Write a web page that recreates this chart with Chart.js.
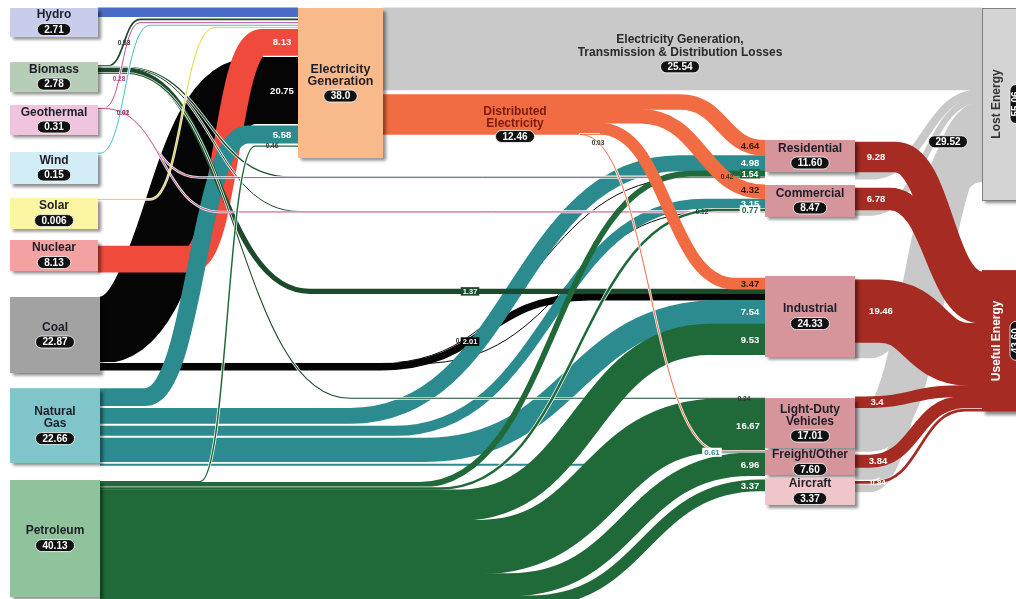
<!DOCTYPE html>
<html>
<head>
<meta charset="utf-8">
<script src="https://cdn.jsdelivr.net/npm/chart.js@4.4.1/dist/chart.umd.min.js"></script>
<style>
  html, body { margin: 0; padding: 0; background: #fff; }
  #wrap { width: 1016px; height: 599px; position: relative; overflow: hidden; }
</style>
</head>
<body>
<div id="wrap"><canvas id="sankey"></canvas></div>
<script>
// --- DATOS: nodos (quads) ---
const nodeIds = ['hydro', 'biomass', 'geothermal', 'wind', 'solar', 'nuclear', 'coal', 'gas', 'petroleum',
    'elec', 'dist', 'residential', 'commercial', 'industrial', 'ldv', 'freight', 'aircraft', 'lost', 'useful'];
const nodeNames = [['Hydro'], ['Biomass'], ['Geothermal'], ['Wind'], ['Solar'], ['Nuclear'], ['Coal'], ['Natural', 'Gas'], ['Petroleum'],
    ['Electricity', 'Generation'], ['Distributed', 'Electricity'], ['Residential'], ['Commercial'], ['Industrial'],
    ['Light-Duty', 'Vehicles'], ['Freight/Other'], ['Aircraft'], ['Lost Energy'], ['Useful Energy']];
const nodeValues = [2.71, 2.78, 0.31, 0.15, 0.006, 8.13, 22.87, 22.66, 40.13, 38.0, 12.46, 11.60, 8.47, 24.33, 17.01, 7.60, 3.37, 55.06, 43.60];
const nodeDecimals = [2, 2, 2, 2, 3, 2, 2, 2, 2, 1, 2, 2, 2, 2, 2, 2, 2, 2, 2];

// --- DATOS: flujos ---
const flowSources = ['hydro', 'biomass', 'biomass', 'biomass', 'biomass', 'biomass', 'geothermal', 'geothermal', 'geothermal',
    'wind', 'solar', 'nuclear', 'coal', 'coal', 'coal', 'coal', 'gas', 'gas', 'gas', 'gas', 'gas',
    'petroleum', 'petroleum', 'petroleum', 'petroleum', 'petroleum', 'petroleum', 'petroleum',
    'elec', 'elec', 'dist', 'dist', 'dist', 'dist',
    'residential', 'commercial', 'industrial', 'ldv', 'freight', 'aircraft',
    'residential', 'commercial', 'industrial', 'ldv', 'freight', 'aircraft'];
const flowTargets = ['elec', 'elec', 'residential', 'commercial', 'industrial', 'ldv', 'elec', 'residential', 'commercial',
    'elec', 'elec', 'elec', 'elec', 'residential', 'commercial', 'industrial', 'elec', 'residential', 'commercial', 'industrial', 'freight',
    'elec', 'residential', 'commercial', 'industrial', 'ldv', 'freight', 'aircraft',
    'lost', 'dist', 'residential', 'commercial', 'industrial', 'freight',
    'useful', 'useful', 'useful', 'useful', 'useful', 'useful',
    'lost', 'lost', 'lost', 'lost', 'lost', 'lost'];
const flowValues = [2.71, 0.53, 0.42, 0.12, 1.37, 0.34, 0.28, 0.02, 0.01,
    0.15, 0.006, 8.13, 20.75, 0.01, 0.07, 2.01, 5.58, 4.98, 3.15, 7.54, 0.61,
    0.46, 1.54, 0.77, 9.53, 16.67, 6.96, 3.37,
    25.54, 12.46, 4.64, 4.32, 3.47, 0.03,
    9.28, 6.78, 19.46, 3.4, 3.84, 0.84,
    2.32, 1.69, 4.87, 13.61, 3.76, 2.53];
const endUseLosses = 29.52;
const lossTitle = ['Electricity Generation,', 'Transmission & Distribution Losses'];

// --- LAYOUT (x en px, y en quads) ---
const L = {
    hydro:      { x0: 10, x1: 98, y0: 2.5, y1: 11.6, out: 2.5, fill: '#c8cdec', band: '#4a6bc6' },
    biomass:    { x0: 10, x1: 98, y0: 19.4, y1: 28.8, out: 20.3, fill: '#b6cdb8', band: '#1d4a2a' },
    geothermal: { x0: 10, x1: 98, y0: 32.8, y1: 42.2, out: 33.6, fill: '#efc4dc', band: '#c24f8c' },
    wind:       { x0: 10, x1: 98, y0: 47.5, y1: 57.5, out: 47.8, fill: '#d3edf6', band: '#3cc0d2' },
    solar:      { x0: 10, x1: 98, y0: 61.9, y1: 71.6, out: 62.3, fill: '#fcf5a3', band: '#e6d43a' },
    nuclear:    { x0: 10, x1: 98, y0: 75, y1: 84.7, out: 76.9, fill: '#f3a1a1', band: '#ef4a3b' },
    coal:       { x0: 10, x1: 100, y0: 92.8, y1: 116.6, out: 92.8, fill: '#a2a2a2', band: '#050505' },
    gas:        { x0: 10, x1: 100, y0: 121.3, y1: 144.7, out: 121.3, outGap: 0.6, fill: '#7fc5ca', band: '#2b8b8e' },
    petroleum:  { x0: 10, x1: 100, y0: 150, y1: 186.6, out: 150.3, fill: '#8fc39b', band: '#1f6a38' },
    elec:       { x0: 298, x1: 383, y0: 2.5, y1: 49.4, in: 2.5, inGap: 0.6, out: 2.5, outGap: 1.5, fill: '#f8b98b', band: '#f26c43', font: 12.5 },
    dist:       { x0: 600, x1: 600, in: 29.54, out: 29.54, band: '#f26c43', virtual: true },
    residential:{ x0: 765, x1: 855, y0: 43.75, y1: 53.75, in: 43.9, out: 44.4, fill: '#d5959b', band: '#a62b22',
                  inOrder: ['dist', 'gas', 'petroleum', 'biomass', 'geothermal', 'coal'] },
    commercial: { x0: 765, x1: 855, y0: 57.8, y1: 67.8, in: 57.8, out: 58.8, fill: '#d5959b', band: '#a62b22',
                  inOrder: ['dist', 'gas', 'petroleum', 'biomass', 'coal', 'geothermal'] },
    industrial: { x0: 765, x1: 855, y0: 86.25, y1: 111.6, in: 86.9, out: 87.5, fill: '#d5959b', band: '#a62b22',
                  inOrder: ['dist', 'biomass', 'coal', 'gas', 'petroleum'] },
    ldv:        { x0: 765, x1: 855, y0: 124.4, y1: 140, in: 124.3, out: 124, fill: '#d5959b', band: '#a62b22' },
    freight:    { x0: 765, x1: 855, y0: 140.6, y1: 148.4, in: 141, out: 142.2, fill: '#d5959b', band: '#a62b22',
                  inOrder: ['dist', 'gas', 'petroleum'] },
    aircraft:   { x0: 765, x1: 855, y0: 149.4, y1: 157.8, in: 150, out: 150.3, fill: '#f0c6ca', band: '#a62b22' },
    lost:       { x0: 982, x1: 1040, y0: 2.5, y1: 62.5, in: 2.5, fill: '#d4d4d4', rotated: true, text: '#333' },
    useful:     { x0: 982, x1: 1040, y0: 84.4, y1: 128.6, in: 85, fill: '#a62b22', rotated: true, text: '#fff' }
};

// tramos curvos de cada flujo [inicio, fin] en x
const bends = {
    'biomass>elec': [108, 140], 'biomass>residential': [125, 290], 'biomass>commercial': [125, 300],
    'biomass>industrial': [125, 310], 'biomass>ldv': [125, 350],
    'geothermal>elec': [104, 140], 'geothermal>residential': [104, 200], 'geothermal>commercial': [104, 220],
    'wind>elec': [100, 150], 'solar>elec': [150, 215], 'nuclear>elec': [190, 262],
    'coal>elec': [100, 255], 'coal>residential': [380, 690], 'coal>commercial': [420, 710], 'coal>industrial': [380, 590],
    'gas>elec': [145, 248], 'gas>residential': [350, 680], 'gas>commercial': [395, 705], 'gas>industrial': [425, 720],
    'gas>freight': [600, 700],
    'petroleum>elec': [200, 255], 'petroleum>residential': [420, 690], 'petroleum>commercial': [440, 715],
    'petroleum>industrial': [460, 710], 'petroleum>ldv': [480, 720], 'petroleum>freight': [510, 750], 'petroleum>aircraft': [530, 760],
    'dist>residential': [680, 765], 'dist>commercial': [640, 765], 'dist>industrial': [600, 735], 'dist>freight': [580, 720],
    'residential>useful': [895, 982], 'commercial>useful': [890, 982], 'industrial>useful': [880, 970],
    'ldv>useful': [865, 960], 'freight>useful': [870, 962], 'aircraft>useful': [875, 965]
};
const lossBend = [870, 980];

// etiquetas de valor sobre los flujos
const flowLabels = {
    'nuclear>elec': { x: 282 }, 'coal>elec': { x: 282 }, 'gas>elec': { x: 282 },
    'biomass>elec': { x: 124, color: '#333', size: 6.5 },
    'geothermal>elec': { x: 119, color: '#b0407a', size: 6.5 },
    'geothermal>residential': { x: 123, color: '#b0407a', size: 6.5 },
    'geothermal>commercial': { x: 123, color: '#b0407a', size: 6.5 },
    'petroleum>elec': { x: 272, color: '#333', size: 6.5 },
    'dist>residential': { x: 750, color: '#3a1200' }, 'dist>commercial': { x: 750, color: '#3a1200' },
    'dist>industrial': { x: 750, color: '#3a1200' }, 'dist>freight': { x: 598, color: '#333', size: 6.5 },
    'gas>residential': { x: 750 }, 'gas>commercial': { x: 750 }, 'gas>industrial': { x: 750 },
    'gas>freight': { x: 712, color: '#2b8b8e', bg: '#fff', size: 8 },
    'petroleum>residential': { x: 750, bg: '#1f6a38', size: 8.5 },
    'petroleum>commercial': { x: 750, color: '#1f6a38', bg: '#fff', size: 8.5 },
    'petroleum>industrial': { x: 750 }, 'petroleum>ldv': { x: 748 }, 'petroleum>freight': { x: 750 },
    'petroleum>aircraft': { x: 750 },
    'biomass>residential': { x: 727, color: '#333', size: 6.5 }, 'biomass>commercial': { x: 702, color: '#333', size: 6.5 },
    'biomass>industrial': { x: 470, bg: '#1d4a2a', size: 7.5 }, 'biomass>ldv': { x: 744, color: '#333', size: 6.5 },
    'coal>industrial': { x: 470, bg: '#050505', size: 7.5 }, 'coal>residential': { x: 462, color: '#333', size: 6.5 },
    'residential>useful': { x: 876 }, 'commercial>useful': { x: 876 }, 'industrial>useful': { x: 881 },
    'ldv>useful': { x: 877 }, 'freight>useful': { x: 878 }, 'aircraft>useful': { x: 878, size: 8 }
};
const drawRank = { coal: 1, nuclear: 2, gas: 3, hydro: 4, biomass: 5, geothermal: 6, wind: 7, solar: 8, petroleum: 9, elec: 10, dist: 11 };

const FONT = '"Liberation Sans", Arial, sans-serif';

function pill(ctx, text, cx, cy, size) {
    ctx.font = `bold ${size || 10}px ${FONT}`;
    const w = ctx.measureText(text).width + 14, h = 12, r = 6;
    ctx.beginPath();
    ctx.moveTo(cx - w / 2 + r, cy - h / 2);
    ctx.lineTo(cx + w / 2 - r, cy - h / 2);
    ctx.arc(cx + w / 2 - r, cy, r, -Math.PI / 2, Math.PI / 2);
    ctx.lineTo(cx - w / 2 + r, cy + h / 2);
    ctx.arc(cx - w / 2 + r, cy, r, Math.PI / 2, Math.PI * 1.5);
    ctx.closePath();
    ctx.fillStyle = '#111';
    ctx.fill();
    ctx.lineWidth = 1;
    ctx.strokeStyle = 'rgba(255,255,255,0.8)';
    ctx.stroke();
    ctx.fillStyle = '#fff';
    ctx.textAlign = 'center';
    ctx.textBaseline = 'middle';
    ctx.fillText(text, cx, cy + 0.5);
}

function bez(a, b, c, d, t) {
    const u = 1 - t;
    return u * u * u * a + 3 * u * u * t * b + 3 * u * t * t * c + t * t * t * d;
}

function yAt(f, px) {
    if (px <= f.b1) return f.y0;
    if (px >= f.b2) return f.y3;
    const m = (f.b1 + f.b2) / 2;
    let lo = 0, hi = 1, t = 0.5;
    for (let k = 0; k < 30; k++) {
        t = (lo + hi) / 2;
        if (bez(f.b1, m, m, f.b2, t) < px) lo = t; else hi = t;
    }
    return bez(f.y0, f.y0, f.y3, f.y3, t);
}

const sankeyPlugin = {
    id: 'sankey',
    afterDraw(chart) {
        const ctx = chart.ctx;
        const X = v => chart.scales.x.getPixelForValue(v);
        const Y = v => chart.scales.y.getPixelForValue(v);

        const flows = flowSources.map((s, i) => ({ s, t: flowTargets[i], v: flowValues[i], key: s + '>' + flowTargets[i], i }));

        // apilar salidas y entradas
        const outCur = {};
        nodeIds.forEach(id => { outCur[id] = L[id].out ?? L[id].y0; });
        flows.forEach(f => { f.sy = outCur[f.s]; outCur[f.s] += f.v + (L[f.s].outGap || 0); });
        nodeIds.forEach(id => {
            const ins = flows.filter(f => f.t === id);
            const order = L[id].inOrder;
            if (order) ins.sort((a, b) => order.indexOf(a.s) - order.indexOf(b.s));
            let c = L[id].in ?? L[id].y0;
            ins.forEach(f => { f.ty = c; c += f.v + (L[id].inGap || 0); });
        });

        flows.forEach(f => {
            f.x0 = X(L[f.s].x1);
            f.x3 = X(L[f.t].x0);
            f.y0 = Y(f.sy + f.v / 2);
            f.y3 = Y(f.ty + f.v / 2);
            f.w = Y(f.sy + f.v) - Y(f.sy);
            const b = bends[f.key] || (f.t === 'lost' && f.s !== 'elec' ? lossBend : null);
            f.b1 = b ? X(b[0]) : f.x0;
            f.b2 = b ? X(b[1]) : f.x3;
            f.color = f.t === 'lost' ? '#c9c9c9' : L[f.s].band;
            f.rank = f.t === 'lost' ? 0 : (drawRank[f.s] || 12);
        });

        const trace = f => {
            const m = (f.b1 + f.b2) / 2;
            ctx.beginPath();
            ctx.moveTo(f.x0, f.y0);
            ctx.lineTo(f.b1, f.y0);
            ctx.bezierCurveTo(m, f.y0, m, f.y3, f.b2, f.y3);
            ctx.lineTo(f.x3, f.y3);
        };

        ctx.save();
        ctx.lineCap = 'butt';
        ctx.lineJoin = 'round';
        flows.slice().sort((a, b) => a.rank - b.rank || a.i - b.i).forEach(f => {
            let w = Math.max(f.w, 1);
            if (w < 3.5 && f.t !== 'lost') {
                trace(f);
                ctx.strokeStyle = 'rgba(255,255,255,0.9)';
                ctx.lineWidth = w + 1.6;
                ctx.stroke();
            } else if (!L[f.s].outGap || f.s === 'elec') {
                w += 0.8; // tapa la costura entre bandas vecinas
            }
            trace(f);
            ctx.strokeStyle = f.color;
            ctx.lineWidth = w;
            ctx.stroke();
        });
        ctx.restore();

        // cajas de nodos
        nodeIds.forEach((id, i) => {
            const n = L[id];
            if (n.virtual) return;
            const x = X(n.x0), y = Y(n.y0), w = X(n.x1) - X(n.x0), h = Y(n.y1) - Y(n.y0);
            ctx.save();
            ctx.shadowColor = 'rgba(0,0,0,0.45)';
            ctx.shadowOffsetX = 3;
            ctx.shadowOffsetY = 3;
            ctx.shadowBlur = 3;
            ctx.fillStyle = n.fill;
            ctx.fillRect(x, y, w, h);
            ctx.restore();
            if (id === 'lost') {
                ctx.strokeStyle = '#808080';
                ctx.lineWidth = 1;
                ctx.strokeRect(x + 0.5, y + 0.5, w, h);
            }

            const val = nodeValues[i].toFixed(nodeDecimals[i]);
            if (n.rotated) {
                ctx.save();
                ctx.translate(x + 15, y + h / 2);
                ctx.rotate(-Math.PI / 2);
                ctx.font = `bold 12px ${FONT}`;
                ctx.fillStyle = n.text;
                ctx.textAlign = 'center';
                ctx.textBaseline = 'middle';
                ctx.fillText(nodeNames[i][0], 0, 0);
                pill(ctx, val, 0, 19);
                ctx.restore();
                return;
            }
            const lines = nodeNames[i];
            const lh = 12, H = lines.length * lh + 15;
            const top = y + h / 2 - H / 2;
            ctx.font = `bold ${n.font || 12}px ${FONT}`;
            ctx.fillStyle = '#1e1e28';
            ctx.textAlign = 'center';
            ctx.textBaseline = 'middle';
            lines.forEach((t, k) => ctx.fillText(t, x + w / 2, top + 6 + k * lh));
            pill(ctx, val, x + w / 2, top + lines.length * lh + 8.5);
        });

        // etiquetas especiales
        const lossFlow = flows.find(f => f.key === 'elec>lost');
        const mid = X(680);
        ctx.font = `bold 12px ${FONT}`;
        ctx.fillStyle = '#2a2a2a';
        ctx.textAlign = 'center';
        ctx.textBaseline = 'middle';
        ctx.fillText(lossTitle[0], mid, lossFlow.y0 - 9);
        ctx.fillText(lossTitle[1], mid, lossFlow.y0 + 4);
        pill(ctx, lossFlow.v.toFixed(2), mid, lossFlow.y0 + 18);

        const dIdx = nodeIds.indexOf('dist');
        const distFlow = flows.find(f => f.key === 'elec>dist');
        ctx.font = `bold 12px ${FONT}`;
        ctx.fillStyle = '#7a1c0c';
        ctx.textAlign = 'center';
        ctx.fillText(nodeNames[dIdx][0], X(515), distFlow.y0 - 3);
        ctx.fillText(nodeNames[dIdx][1], X(515), distFlow.y0 + 9);
        pill(ctx, nodeValues[dIdx].toFixed(2), X(515), distFlow.y0 + 22);

        const lostEnd = flows.filter(f => f.t === 'lost' && f.s !== 'elec');
        const last = lostEnd[lostEnd.length - 1];
        pill(ctx, endUseLosses.toFixed(2), X(948), (Y(lostEnd[0].ty) + Y(last.ty + last.v)) / 2 + 6);

        // valores de los flujos
        flows.forEach(f => {
            const lb = flowLabels[f.key];
            if (!lb) return;
            const px = X(lb.x), py = yAt(f, px);
            const txt = String(f.v);
            ctx.font = `bold ${lb.size || 9.5}px ${FONT}`;
            ctx.textAlign = 'center';
            ctx.textBaseline = 'middle';
            if (lb.bg) {
                const tw = ctx.measureText(txt).width + 4;
                const th = (lb.size || 9.5) + 1;
                ctx.fillStyle = lb.bg;
                ctx.fillRect(px - tw / 2, py - th / 2, tw, th);
            }
            ctx.fillStyle = lb.color || '#fff';
            ctx.fillText(txt, px, py + 0.5);
        });
    }
};

new Chart(document.getElementById('sankey'), {
    type: 'scatter',
    data: { datasets: [] },
    options: {
        responsive: true,
        maintainAspectRatio: false,
        animation: false,
        events: [],
        layout: { padding: 0 },
        scales: {
            x: { type: 'linear', min: 0, max: 1016, display: false },
            y: { type: 'linear', min: 0, max: 599 / 3.2, reverse: true, display: false }
        },
        plugins: { legend: { display: false }, tooltip: { enabled: false } }
    },
    plugins: [sankeyPlugin]
});
</script>
</body>
</html>
